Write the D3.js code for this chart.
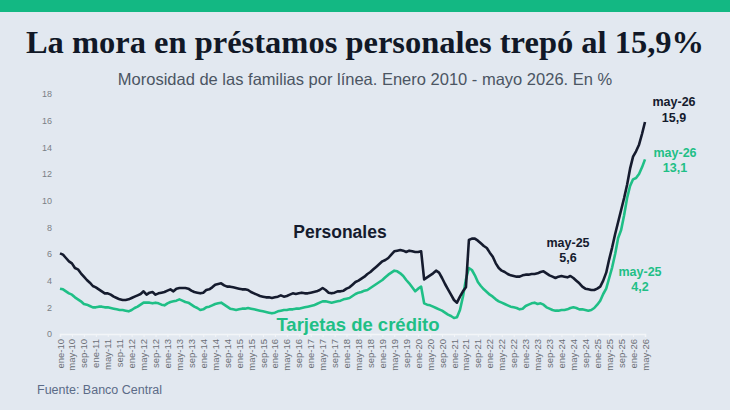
<!DOCTYPE html>
<html>
<head>
<meta charset="utf-8">
<script src="https://cdn.jsdelivr.net/npm/d3@7"></script>
<style>
  body { margin: 0; background: #e2e8f0; }
  svg { display: block; }
</style>
</head>
<body>
<svg id="chart" width="730" height="410"></svg>
<script>
// months and years of the series (ene-10 ... may-26)
const monthNames = ["ene","feb","mar","abr","may","jun","jul","ago","sep","oct","nov","dic"];
const years = ["10","11","12","13","14","15","16","17","18","19","20","21","22","23","24","25","26"];
const yTicks = [0, 2, 4, 6, 8, 10, 12, 14, 16, 18];

// Personales, %
const personales = [
  6.05, 5.95, 5.7, 5.45, 5.3, 4.95, 4.85, 4.55, 4.3, 4.05, 3.85, 3.6,
  3.5, 3.35, 3.2, 3.05, 3.05, 2.95, 2.8, 2.7, 2.6, 2.55, 2.55, 2.6,
  2.7, 2.8, 2.9, 3.0, 3.2, 2.95, 3.1, 3.15, 2.95, 3.05, 3.1, 3.15,
  3.25, 3.35, 3.2, 3.4, 3.45, 3.45, 3.45, 3.4, 3.25, 3.15, 3.1, 3.05,
  3.1, 3.3, 3.35, 3.5, 3.7, 3.75, 3.8, 3.65, 3.55, 3.55, 3.5, 3.45,
  3.4, 3.35, 3.35, 3.3, 3.15, 3.05, 2.95, 2.85, 2.8, 2.75, 2.75, 2.7,
  2.75, 2.8, 2.9, 2.8, 2.85, 2.95, 3.05, 3.0, 3.05, 3.1, 3.05, 3.05,
  3.1, 3.15, 3.2, 3.3, 3.45, 3.3, 3.1, 3.05, 3.1, 3.2, 3.2, 3.25,
  3.4, 3.5, 3.7, 3.9, 4.0, 4.15, 4.3, 4.5, 4.65, 4.85, 5.05, 5.25,
  5.45, 5.55, 5.7, 5.95, 6.2, 6.25, 6.3, 6.25, 6.15, 6.25, 6.2, 6.15,
  6.15, 6.2, 4.1, 4.25, 4.4, 4.55, 4.75, 4.6, 4.2, 3.75, 3.35, 2.95,
  2.55, 2.35, 2.8, 3.2, 3.5, 7.05, 7.15, 7.15, 7.0, 6.8, 6.6, 6.45,
  6.1, 5.8, 5.3, 4.95, 4.75, 4.65, 4.5, 4.4, 4.35, 4.3, 4.3, 4.4,
  4.45, 4.45, 4.5, 4.5, 4.55, 4.65, 4.7, 4.55, 4.4, 4.3, 4.2, 4.3,
  4.35, 4.3, 4.25, 4.35, 4.2, 4.0, 3.8, 3.55, 3.4, 3.35, 3.3, 3.3,
  3.4, 3.55, 4.0, 4.6, 5.6, 6.5, 7.5, 8.4, 9.3, 10.2, 11.2, 12.4,
  13.3, 13.7, 14.2, 15.0, 15.9
];

// Tarjetas de crédito, %
const tarjetas = [
  3.4, 3.35, 3.2, 3.05, 2.95, 2.75, 2.6, 2.45, 2.25, 2.2, 2.1, 2.0,
  2.0, 2.05, 2.05, 2.0, 2.0, 1.95, 1.9, 1.85, 1.8, 1.8, 1.75, 1.7,
  1.8, 1.95, 2.05, 2.2, 2.35, 2.35, 2.35, 2.3, 2.35, 2.3, 2.2, 2.15,
  2.3, 2.4, 2.45, 2.5, 2.6, 2.5, 2.4, 2.35, 2.2, 2.05, 1.95, 1.8,
  1.85, 2.0, 2.05, 2.15, 2.25, 2.3, 2.35, 2.2, 2.05, 1.9, 1.85, 1.8,
  1.85, 1.9, 1.9, 1.95, 1.9, 1.85, 1.8, 1.75, 1.7, 1.65, 1.6, 1.55,
  1.6, 1.7, 1.75, 1.8, 1.8, 1.85, 1.85, 1.9, 1.9, 1.95, 2.0, 2.05,
  2.1, 2.15, 2.25, 2.35, 2.45, 2.45, 2.4, 2.35, 2.4, 2.45, 2.5, 2.6,
  2.65, 2.7, 2.85, 3.0, 3.1, 3.15, 3.25, 3.3, 3.45, 3.6, 3.75, 3.9,
  4.05, 4.25, 4.45, 4.6, 4.75, 4.7, 4.55, 4.35, 4.05, 3.8, 3.5, 3.2,
  3.4, 3.55, 2.3, 2.2, 2.15, 2.05, 1.95, 1.85, 1.75, 1.6, 1.45, 1.35,
  1.2, 1.25, 1.8, 2.8, 4.1, 4.95, 4.8, 4.4, 3.9, 3.6, 3.35, 3.15,
  2.95, 2.8, 2.6, 2.45, 2.35, 2.25, 2.15, 2.05, 2.0, 1.95, 1.85, 1.9,
  2.1, 2.2, 2.3, 2.35, 2.25, 2.3, 2.2, 2.0, 1.9, 1.8, 1.75, 1.75,
  1.8, 1.8, 1.85, 1.95, 2.0, 1.95, 1.85, 1.85, 1.8, 1.75, 1.8, 1.95,
  2.2, 2.5, 3.0, 3.4, 4.2, 5.0, 6.0, 7.2, 7.8, 8.9, 10.2, 11.1,
  11.6, 11.7, 12.0, 12.5, 13.1
];

const categories = [];
years.forEach(y => monthNames.forEach(m => categories.push(m + "-" + y)));
categories.length = personales.length;

const W = 730, H = 410;
const margin = {top: 94, right: 85, bottom: 76, left: 60},
  width = W - margin.left - margin.right,
  height = H - margin.top - margin.bottom;

const svg = d3.select("#chart");
svg.append("rect").attr("width", W).attr("height", H).attr("fill", "#e2e8f0");
svg.append("rect").attr("width", W).attr("height", 12).attr("fill", "#13b883");

svg.append("text").attr("x", W / 2).attr("y", 53).attr("text-anchor", "middle")
  .attr("font-family", "Liberation Serif, serif").attr("font-weight", "bold")
  .attr("font-size", 32.5).attr("fill", "#111827")
  .text("La mora en préstamos personales trepó al 15,9%");
svg.append("text").attr("x", W / 2).attr("y", 85).attr("text-anchor", "middle")
  .attr("font-family", "Liberation Sans, Arial, sans-serif")
  .attr("font-size", 16.5).attr("fill", "#4b5563")
  .text("Morosidad de las familias por línea. Enero 2010 - mayo 2026. En %");
svg.append("text").attr("x", 37).attr("y", 394)
  .attr("font-family", "Liberation Sans, Arial, sans-serif")
  .attr("font-size", 12.5).attr("fill", "#5b6b87")
  .text("Fuente: Banco Central");

const g = svg.append("g").attr("transform", `translate(${margin.left},${margin.top})`);

const x = d3.scalePoint().domain(categories).range([0, width]);
const y = d3.scaleLinear().domain([0, 18]).range([height, 0]);

const xAxis = g.append("g").attr("transform", `translate(0,${height})`)
  .call(d3.axisBottom(x).tickValues(categories.filter((d, i) => i % 4 === 0)).tickSize(3).tickPadding(3));
xAxis.select(".domain").attr("stroke", "#f3f5f8").attr("stroke-width", 1.5);
xAxis.selectAll(".tick line").attr("stroke", "#f3f5f8");
xAxis.selectAll("text").attr("transform", "rotate(-90)").attr("text-anchor", "end")
  .attr("x", -5).attr("y", 0).attr("dy", "0.32em")
  .attr("font-family", "Liberation Sans, Arial, sans-serif").attr("font-size", 9.5).attr("fill", "#6b6f76");

const yAxis = g.append("g").call(d3.axisLeft(y).tickValues(yTicks).tickSize(0).tickPadding(8));
yAxis.select(".domain").remove();
yAxis.selectAll("text").attr("font-family", "Liberation Sans, Arial, sans-serif")
  .attr("font-size", 9).attr("fill", "#7b7f86");

const line = d3.line().x((d, i) => x(categories[i])).y(d => y(d)).curve(d3.curveLinear);
g.append("path").datum(tarjetas).attr("fill", "none").attr("stroke", "#1fbf86")
  .attr("stroke-width", 2.6).attr("stroke-linejoin", "round").attr("d", line);
g.append("path").datum(personales).attr("fill", "none").attr("stroke", "#151b2e")
  .attr("stroke-width", 2.6).attr("stroke-linejoin", "round").attr("d", line);

// labels
const lab = (tx, ty, txt, color, size) => svg.append("text").attr("x", tx).attr("y", ty)
  .attr("text-anchor", "middle").attr("font-family", "Liberation Sans, Arial, sans-serif")
  .attr("font-weight", "bold").attr("font-size", size).attr("fill", color).text(txt);
lab(340, 238, "Personales", "#151b2e", 17.5);
lab(358, 331, "Tarjetas de crédito", "#1fbf86", 18.5);
lab(568, 247, "may-25", "#151b2e", 12.5);
lab(568, 262, "5,6", "#151b2e", 12.5);
lab(640, 276, "may-25", "#1fbf86", 12.5);
lab(640, 291, "4,2", "#1fbf86", 12.5);
lab(674, 106, "may-26", "#151b2e", 12.5);
lab(674, 122, "15,9", "#151b2e", 12.5);
lab(675, 157, "may-26", "#1fbf86", 12.5);
lab(675, 172, "13,1", "#1fbf86", 12.5);
</script>
</body>
</html>
